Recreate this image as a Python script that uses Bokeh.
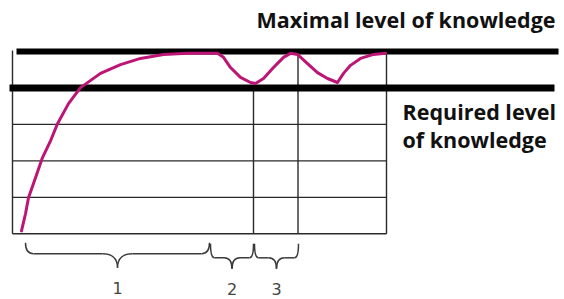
from bokeh.plotting import figure
from bokeh.models import Range1d
from bokeh.embed import file_html
from bokeh.resources import INLINE
from bokeh.core.properties import value

# ---- data (schematic learning curve) ----
time_pts = [0.9, 1.3, 1.6, 2.3, 3.0, 3.8, 4.5, 5.6, 6.8, 8.8, 10.8, 12.8, 15.1, 17.5,
             20.5, 21.1, 21.8, 22.8, 23.8, 24.3, 25.1, 26.1, 27.1, 27.8, 28.5, 29.5,
             30.5, 31.5, 32.5, 33.1, 33.8, 34.8, 36.1, 37.3]
knowledge_pts = [0.08, 0.55, 0.99, 1.54, 2.09, 2.55, 3.02, 3.57, 4.01, 4.40, 4.64, 4.81,
                 4.92, 4.95, 4.95, 4.84, 4.56, 4.29, 4.15, 4.12, 4.26, 4.56, 4.84, 4.95,
                 4.92, 4.67, 4.42, 4.26, 4.15, 4.40, 4.62, 4.81, 4.92, 4.95]

grid_levels = [0, 1, 2, 3]
required_level = 4
maximal_level = 5
stage_bounds = [0, 24.1, 28.55, 37.4]
stage_bound_tops = [5.03, 4, 5, 5]
brace_starts = [1.3, 19.8, 24.2]
brace_ends = [19.7, 24.1, 28.6]
brace_labels = ["1", "2", "3"]
title_max = "Maximal level of knowledge"
title_req = ["Required level", "of knowledge"]

# ---- figure ----
p = figure(width=564, height=299, output_backend="svg", toolbar_location=None,
           x_range=Range1d(-1.2, 55.2), y_range=Range1d(-1.802, 6.399),
           min_border=0)
p.axis.visible = False
p.grid.visible = False
p.outline_line_color = None
p.background_fill_color = "white"
p.border_fill_color = "white"

grid_color = "#2a2a2a"
x_right = stage_bounds[-1]

# thin horizontal grid lines
p.segment(x0=[stage_bounds[0]] * len(grid_levels), y0=grid_levels,
          x1=[x_right] * len(grid_levels), y1=grid_levels,
          line_color=grid_color, line_width=1.4)
# vertical stage lines
p.segment(x0=stage_bounds, y0=[0] * len(stage_bounds), x1=stage_bounds,
          y1=stage_bound_tops, line_color=grid_color, line_width=1.4)

# thick level lines
p.segment(x0=[-0.3], y0=[required_level], x1=[54.2], y1=[required_level],
          line_color="black", line_width=7)
p.segment(x0=[0.4], y0=[maximal_level], x1=[54.6], y1=[maximal_level],
          line_color="black", line_width=6)

# learning curve
p.line(time_pts, knowledge_pts, line_color="#bd1576", line_width=3,
       line_join="round", line_cap="round")

# braces
brace_color = "#3a3a3a"
for i, (a, b) in enumerate(zip(brace_starts, brace_ends)):
    c = (a + b) / 2
    if i == 0:
        top, mid, tip, re, rt = -0.247, -0.549, -0.934, 0.8, 1.5
    else:
        top, mid, tip, re, rt = -0.275, -0.659, -0.962, 0.4, 0.8
    p.quadratic(x0=[a, c - rt, c, b - re], y0=[top, mid, tip, mid],
                x1=[a + re, c, c + rt, b], y1=[mid, tip, mid, top],
                cx=[a, c, c, b], cy=[mid, mid, mid, mid],
                line_color=brace_color, line_width=1.5)
    p.segment(x0=[a + re, c + rt], y0=[mid, mid], x1=[c - rt, b - re], y1=[mid, mid],
              line_color=brace_color, line_width=1.5)
    p.text(x=[c], y=[tip], text=[brace_labels[i]], y_offset=20,
           text_align="center", text_baseline="alphabetic",
           text_font=value("DejaVu Sans"), text_font_size="16px",
           text_color="#444444")

# titles
p.text(x=[54.3], y=[maximal_level], text=[title_max], y_offset=-32,
       text_align="right", text_baseline="alphabetic",
       text_font=value("Open Sans"), text_font_style="bold",
       text_font_size="21.5px", text_color="#111111")
p.text(x=[39.0, 39.0], y=[required_level, required_level], text=title_req,
       y_offset=[24, 52], text_align="left", text_baseline="alphabetic",
       text_font=value("Open Sans"), text_font_style="bold",
       text_font_size="21.5px", text_color="#111111")

open("out.html", "w").write(file_html(p, INLINE))
